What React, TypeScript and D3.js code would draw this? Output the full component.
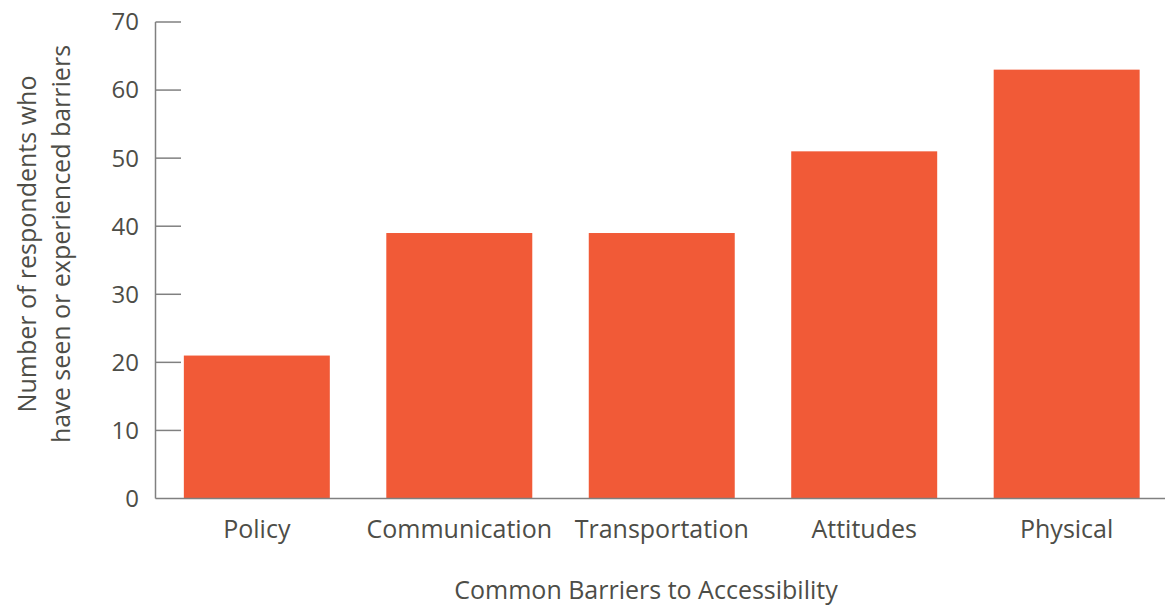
import React from "react";
import * as d3 from "d3";

const categories = ["Policy", "Communication", "Transportation", "Attitudes", "Physical"];
const values = [21, 39, 39, 51, 63];
const yTicks = [0, 10, 20, 30, 40, 50, 60, 70];
const xTitle = "Common Barriers to Accessibility";
const yTitleLines = ["Number of respondents who", "have seen or experienced barriers"];

const W = 1169;
const H = 608;
const FONT = "'Open Sans', sans-serif";
const TEXT = "#4d4d47";
const AXIS = "#808080";
const BAR = "#f15a37";

export default function App() {
  const x = d3
    .scaleBand<string>()
    .domain(categories)
    .range([155.5, 1168])
    .paddingInner(0.279)
    .paddingOuter(0.14);
  const y = d3.scaleLinear().domain([0, 70]).range([498.5, 22]);

  return (
    <svg
      width={W}
      height={H}
      style={{ position: "absolute", left: 0, top: 0, background: "#fff" }}
      fontFamily={FONT}
    >
      {categories.map((c, i) => (
        <rect
          key={c}
          x={x(c)}
          y={y(values[i])}
          width={x.bandwidth()}
          height={y(0) - y(values[i])}
          fill={BAR}
        />
      ))}
      {/* y axis */}
      <line x1={155.5} x2={155.5} y1={y(70)} y2={y(0)} stroke={AXIS} strokeWidth={1.5} />
      {yTicks.map((t) => (
        <g key={t}>
          {t > 0 && (
            <line x1={155.5} x2={181} y1={y(t)} y2={y(t)} stroke={AXIS} strokeWidth={1.5} />
          )}
          <text x={139} y={y(t)} dy="0.35em" textAnchor="end" fontSize={24} fill={TEXT}>
            {t}
          </text>
        </g>
      ))}
      {/* x axis */}
      <line x1={155.5} x2={1165} y1={y(0)} y2={y(0)} stroke={AXIS} strokeWidth={1.5} />
      {categories.map((c) => (
        <text
          key={c}
          x={(x(c) as number) + x.bandwidth() / 2}
          y={538}
          textAnchor="middle"
          fontSize={25}
          fill={TEXT}
        >
          {c}
        </text>
      ))}
      <text x={646} y={599} textAnchor="middle" fontSize={25} fill={TEXT}>
        {xTitle}
      </text>
      <g transform="translate(0,244) rotate(-90)">
        {yTitleLines.map((l, i) => (
          <text key={i} x={0} y={36 + i * 34} textAnchor="middle" fontSize={25} fill={TEXT}>
            {l}
          </text>
        ))}
      </g>
    </svg>
  );
}
